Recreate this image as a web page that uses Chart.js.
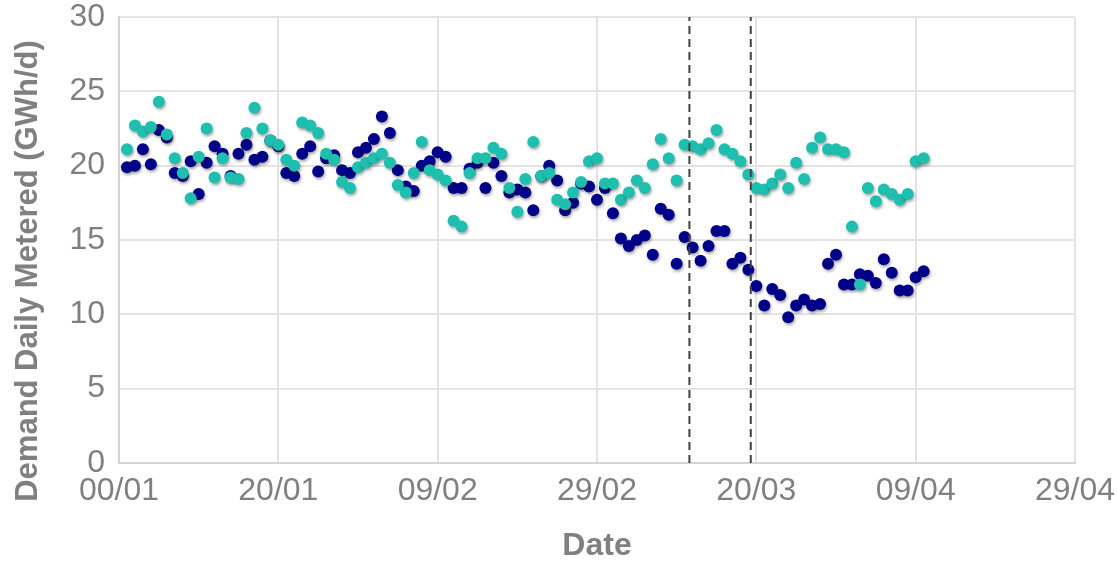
<!DOCTYPE html>
<html>
<head>
<meta charset="utf-8">
<script src="https://cdn.jsdelivr.net/npm/chart.js@4/dist/chart.umd.min.js"></script>
<style>
  html, body { margin: 0; padding: 0; background: #fff; }
</style>
</head>
<body>
<canvas id="demand" width="1117" height="562"></canvas>
<script>
// daily values, first point is 01/01 (day 1 on the axis)
const startDay = 1;

const navyValues = [
  19.9, 20.0, 21.1, 20.1, 22.4, 21.9, 19.5, 19.3, 20.3, 18.1,
  20.2, 21.3, 20.8, 19.3, 20.8, 21.4, 20.4, 20.6, 21.7, 21.3,
  19.5, 19.3, 20.8, 21.3, 19.6, 20.5, 20.7, 19.7, 19.5, 20.9,
  21.2, 21.8, 23.3, 22.2, 19.7, 18.6, 18.3, 20.0, 20.3, 20.9,
  20.6, 18.5, 18.5, 19.8, 20.2, 18.5, 20.2, 19.3, 18.2, 18.4,
  18.2, 17.0, 19.3, 20.0, 19.0, 17.0, 17.5, 18.8, 18.6, 17.7,
  18.5, 16.8, 15.1, 14.6, 15.0, 15.3, 14.0, 17.1, 16.7, 13.4,
  15.2, 14.5, 13.6, 14.6, 15.6, 15.6, 13.4, 13.8, 13.0, 11.9,
  10.6, 11.7, 11.3, 9.8, 10.6, 11.0, 10.6, 10.7, 13.4, 14.0,
  12.0, 12.0, 12.7, 12.6, 12.1, 13.7, 12.8, 11.6, 11.6, 12.5,
  12.9
];

const tealValues = [
  21.1, 22.7, 22.3, 22.6, 24.3, 22.1, 20.5, 19.5, 17.8, 20.6,
  22.5, 19.2, 20.5, 19.2, 19.1, 22.2, 23.9, 22.5, 21.7, 21.4,
  20.4, 20.0, 22.9, 22.7, 22.2, 20.8, 20.4, 18.9, 18.5, 19.9,
  20.2, 20.5, 20.8, 20.2, 18.7, 18.2, 19.5, 21.6, 19.7, 19.4,
  19.0, 16.3, 15.9, 19.5, 20.5, 20.5, 21.2, 20.8, 18.5, 16.9,
  19.1, 21.6, 19.3, 19.5, 17.7, 17.4, 18.2, 18.9, 20.3, 20.5,
  18.8, 18.8, 17.7, 18.2, 19.0, 18.5, 20.1, 21.8, 20.5, 19.0,
  21.4, 21.3, 21.1, 21.5, 22.4, 21.1, 20.8, 20.3, 19.4, 18.5,
  18.4, 18.8, 19.4, 18.5, 20.2, 19.1, 21.2, 21.9, 21.1, 21.1,
  20.9, 15.9, 12.0, 18.5, 17.6, 18.4, 18.1, 17.7, 18.1, 20.3,
  20.5
];

// vertical dashed markers (day on the axis)
const markerDays = [71.6, 79.3];

const xTickLabels = ['00/01', '20/01', '09/02', '29/02', '20/03', '09/04', '29/04'];
const yTicks = [0, 5, 10, 15, 20, 25, 30];
const yTitle = 'Demand Daily Metered (GWh/d)';

const toPoints = values => values.map((v, i) => ({ x: startDay + i, y: v }));

const markerSets = markerDays.map(d => ({
  label: 'marker',
  data: [{ x: d, y: yTicks[0] }, { x: d, y: yTicks[yTicks.length - 1] }],
  showLine: true,
  borderColor: '#404040',
  borderWidth: 2,
  borderDash: [8, 5],
  pointRadius: 0,
  shadow: false
}));

const grey = '#808080';
const fontFamily = 'Liberation Sans, Arial, sans-serif';

const dotShadow = {
  id: 'dotShadow',
  beforeDatasetDraw(chart, args) {
    const ds = chart.data.datasets[args.index];
    if (ds.shadow === false) return;
    const ctx = chart.ctx;
    ctx.save();
    ctx.shadowColor = 'rgba(0,0,0,0.35)';
    ctx.shadowBlur = 3;
    ctx.shadowOffsetX = 1;
    ctx.shadowOffsetY = 2;
  },
  afterDatasetDraw(chart, args) {
    const ds = chart.data.datasets[args.index];
    if (ds.shadow === false) return;
    chart.ctx.restore();
  }
};

// y title sits a bit below the plot centre in the original
const yTitlePlugin = {
  id: 'yTitle',
  afterDraw(chart) {
    const ctx = chart.ctx;
    const area = chart.chartArea;
    ctx.save();
    ctx.translate(28, (area.top + area.bottom) / 2 + 31);
    ctx.rotate(-Math.PI / 2);
    ctx.fillStyle = grey;
    ctx.font = 'bold 31px ' + fontFamily;
    ctx.textAlign = 'center';
    ctx.textBaseline = 'middle';
    ctx.fillText(yTitle, 0, 0);
    ctx.restore();
  }
};

const demandChart = new Chart(document.getElementById('demand'), {
  type: 'scatter',
  data: {
    datasets: [
      ...markerSets,
      {
        label: 'Series 2',
        data: toPoints(tealValues),
        backgroundColor: '#1fbfb0',
        borderColor: '#1fbfb0',
        pointRadius: 6,
        pointBorderWidth: 0
      },
      {
        label: 'Series 1',
        data: toPoints(navyValues),
        backgroundColor: '#000088',
        borderColor: '#000088',
        pointRadius: 6,
        pointBorderWidth: 0
      }
    ]
  },
  plugins: [dotShadow, yTitlePlugin],
  options: {
    responsive: false,
    animation: false,
    devicePixelRatio: 1,
    layout: {
      autoPadding: false,
      padding: 0
    },
    plugins: {
      legend: { display: false },
      tooltip: { enabled: false }
    },
    scales: {
      x: {
        type: 'linear',
        min: 0,
        max: 120,
        afterFit: scale => {
          scale.height = 99;
          scale.paddingLeft = 0;
          scale.paddingRight = 42;
        },
        ticks: {
          stepSize: 20,
          padding: 11,
          color: grey,
          font: { family: fontFamily, size: 32, lineHeight: 1.1 },
          maxRotation: 0,
          callback: (value, index) => xTickLabels[index]
        },
        grid: {
          color: '#e3e3e3',
          lineWidth: 2,
          drawTicks: false
        },
        border: { color: '#d4d4d4', width: 2 },
        title: {
          display: true,
          text: 'Date',
          color: grey,
          padding: { top: 0, bottom: 0 },
          font: { family: fontFamily, size: 32, weight: 'bold', lineHeight: 1 }
        }
      },
      y: {
        min: 0,
        max: 30,
        afterFit: scale => {
          scale.width = 119;
          scale.paddingTop = 17;
          scale.paddingBottom = 0;
        },
        ticks: {
          stepSize: 5,
          padding: 14,
          color: grey,
          font: { family: fontFamily, size: 32, lineHeight: 1.1 }
        },
        grid: {
          color: '#e3e3e3',
          lineWidth: 2,
          drawTicks: false
        },
        border: { color: '#d4d4d4', width: 2 }
      }
    }
  }
});
</script>
</body>
</html>
